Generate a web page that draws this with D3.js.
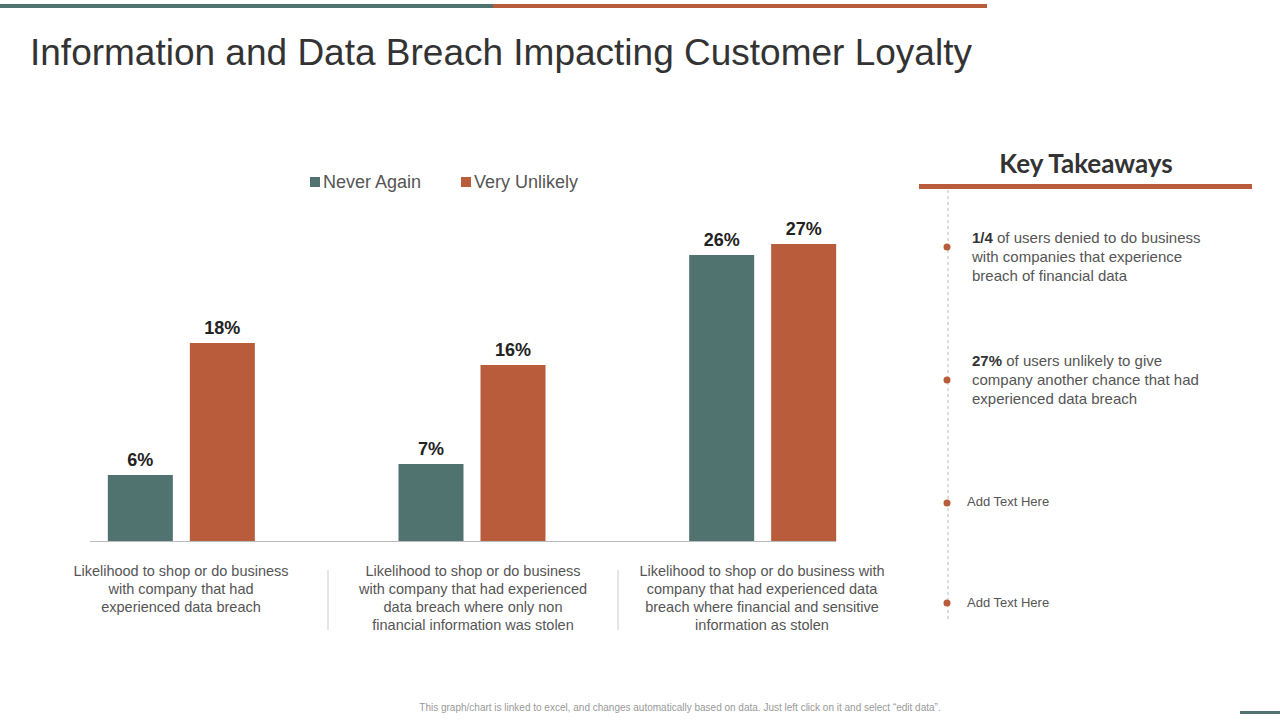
<!DOCTYPE html>
<html>
<head>
<meta charset="utf-8">
<script src="https://cdn.jsdelivr.net/npm/d3@7"></script>
<style>
  body { margin: 0; background: #fff; }
  text { font-family: "Liberation Sans", Arial, sans-serif; }
</style>
</head>
<body>
<script>
// chart data
var categories = [
  ["Likelihood to shop or do business", "with company that had", "experienced data breach"],
  ["Likelihood to shop or do business", "with company that had experienced", "data breach where only non", "financial information was stolen"],
  ["Likelihood to shop or do business with", "company that had experienced data", "breach where financial and sensitive", "information as stolen"]
];
var seriesNames = ["Never Again", "Very Unlikely"];
var neverAgain = [6, 7, 26];
var veryUnlikely = [18, 16, 27];
var colors = ["#51736f", "#b85c3b"];

var takeaways = [
  { bold: "1/4", lines: [" of users denied to do business", "with companies that experience", "breach of financial data"] },
  { bold: "27%", lines: [" of users unlikely to give", "company another chance that had", "experienced data breach"] }
];
var addText = ["Add Text Here", "Add Text Here"];

var svg = d3.select("body").append("svg")
    .attr("width", 1280)
    .attr("height", 720);

// top accent bars
svg.append("rect").attr("x", 0).attr("y", 4).attr("width", 493).attr("height", 4).attr("fill", colors[0]);
svg.append("rect").attr("x", 493).attr("y", 4).attr("width", 494).attr("height", 4).attr("fill", colors[1]);

svg.append("text")
    .attr("x", 30).attr("y", 65)
    .attr("font-size", 37)
    .attr("fill", "#333")
    .text("Information and Data Breach Impacting Customer Loyalty");

// scales
var x0 = d3.scaleBand().domain(d3.range(3)).range([36, 908]).paddingInner(0).paddingOuter(0);
var y = d3.scaleLinear().domain([0, 27]).range([541, 244]);
var barW = 65, gap = 17;

var g = svg.append("g");
var groups = g.selectAll("g.grp").data(d3.range(3)).enter().append("g")
    .attr("transform", function(i) { return "translate(" + (x0(i) + x0.bandwidth() / 2) + ",0)"; });

[neverAgain, veryUnlikely].forEach(function(series, s) {
  groups.append("rect")
      .attr("x", function() { return s === 0 ? -(barW + gap / 2) : gap / 2; })
      .attr("y", function(i) { return y(series[i]); })
      .attr("width", barW)
      .attr("height", function(i) { return y(0) - y(series[i]); })
      .attr("fill", colors[s]);
  groups.append("text")
      .attr("x", function() { return s === 0 ? -(barW / 2 + gap / 2) : barW / 2 + gap / 2; })
      .attr("y", function(i) { return y(series[i]) - 9; })
      .attr("text-anchor", "middle")
      .attr("font-size", 18)
      .attr("font-weight", "bold")
      .attr("fill", "#222")
      .text(function(i) { return series[i] + "%"; });
});

g.append("line").attr("x1", 90).attr("x2", 836).attr("y1", 541.5).attr("y2", 541.5)
    .attr("stroke", "#bbb").attr("stroke-width", 1);

// category labels
var labelCenters = [181, 473, 762];
categories.forEach(function(lines, i) {
  var t = svg.append("text").attr("text-anchor", "middle").attr("font-size", 14.5).attr("fill", "#555");
  lines.forEach(function(l, k) {
    t.append("tspan").attr("x", labelCenters[i]).attr("y", 576 + k * 18).text(l);
  });
});
[328, 618].forEach(function(xx) {
  svg.append("line").attr("x1", xx).attr("x2", xx).attr("y1", 570).attr("y2", 630)
      .attr("stroke", "#ccc");
});

// legend
var lx = [310, 461];
seriesNames.forEach(function(n, i) {
  svg.append("rect").attr("x", lx[i]).attr("y", 177).attr("width", 10).attr("height", 10).attr("fill", colors[i]);
  svg.append("text").attr("x", lx[i] + 13).attr("y", 188).attr("font-size", 18).attr("fill", "#555").text(n);
});

// key takeaways panel
svg.append("text").attr("x", 1086).attr("y", 173).attr("text-anchor", "middle")
    .attr("font-size", 26).attr("font-weight", "bold").attr("fill", "#333")
    .style("font-family", "Lato, sans-serif")
    .text("Key Takeaways");
svg.append("rect").attr("x", 919).attr("y", 184).attr("width", 333).attr("height", 5).attr("fill", colors[1]);
svg.append("line").attr("x1", 948).attr("x2", 948).attr("y1", 190).attr("y2", 620)
    .attr("stroke", "#bbb").attr("stroke-dasharray", "3,3");

var dotY = [247, 380, 503, 603];
dotY.forEach(function(dy) {
  svg.append("circle").attr("cx", 947).attr("cy", dy).attr("r", 3.5).attr("fill", colors[1]);
});

var textTops = [243, 366];
takeaways.forEach(function(tk, i) {
  var t = svg.append("text").attr("font-size", 15).attr("fill", "#555");
  t.append("tspan").attr("x", 972).attr("y", textTops[i]).attr("font-weight", "bold").attr("fill", "#333").text(tk.bold);
  t.append("tspan").text(tk.lines[0]);
  tk.lines.slice(1).forEach(function(l, k) {
    t.append("tspan").attr("x", 972).attr("y", textTops[i] + (k + 1) * 19).text(l);
  });
});
addText.forEach(function(s, i) {
  svg.append("text").attr("x", 967).attr("y", [506, 607][i]).attr("font-size", 13).attr("fill", "#555").text(s);
});

// footer
svg.append("text").attr("x", 680).attr("y", 711).attr("text-anchor", "middle")
    .attr("font-size", 10).attr("fill", "#999")
    .text("This graph/chart is linked to excel, and changes automatically based on data. Just left click on it and select \u201cedit data\u201d.");
svg.append("rect").attr("x", 1240).attr("y", 711).attr("width", 40).attr("height", 3).attr("fill", colors[0]);
</script>
</body>
</html>
